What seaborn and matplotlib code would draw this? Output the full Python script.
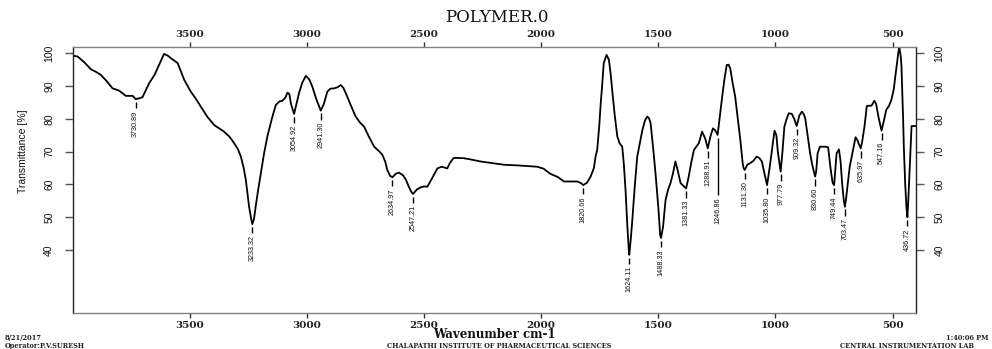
import numpy as np
import pandas as pd
import matplotlib
matplotlib.use("Agg")
import matplotlib.pyplot as plt
import seaborn as sns

# Spectrum trace: wavenumber (cm-1) and transmittance (%)
spectrum_wn = [
    3996, 3979, 3950, 3922, 3900, 3880, 3855, 3830, 3802, 3773, 3744, 3715, 3702,
    3674, 3650, 3638, 3622, 3610, 3595, 3581, 3552, 3524, 3496, 3475, 3453, 3425,
    3396, 3354, 3330, 3311, 3295, 3282, 3270, 3261, 3247, 3238, 3226, 3219, 3208,
    3197, 3183, 3169, 3150, 3133, 3118, 3105, 3092, 3083, 3075, 3068, 3045, 3034,
    3020, 3005, 2990, 2977, 2960, 2928, 2913, 2900, 2884, 2870, 2856, 2845, 2834,
    2812, 2792, 2775, 2756, 2735, 2713, 2690, 2678, 2666, 2657, 2645, 2620, 2607,
    2590, 2578, 2565, 2555, 2530, 2515, 2500, 2486, 2465, 2443, 2425, 2401, 2390,
    2375, 2365, 2330, 2300, 2259, 2200, 2159, 2100, 2017, 1990, 1960, 1930, 1903,
    1870, 1846, 1830, 1805, 1789, 1775, 1768, 1761, 1752, 1747, 1740, 1733, 1721,
    1711, 1704, 1697, 1686, 1675, 1665, 1654, 1647, 1640, 1632, 1626, 1618, 1611,
    1600, 1590, 1578, 1568, 1557, 1547, 1540, 1533, 1522, 1512, 1500, 1492, 1480,
    1469, 1458, 1448, 1437, 1427, 1418, 1405, 1392, 1370, 1360, 1348, 1327, 1313,
    1300, 1278, 1267, 1257, 1238, 1229, 1218, 1208, 1200, 1193, 1183, 1172, 1160,
    1150, 1140, 1136, 1120, 1108, 1094, 1080, 1068, 1058, 1046, 1025, 1015, 1004,
    996, 990, 970, 962, 952, 943, 930, 920, 898, 887, 880, 873, 862, 852, 843,
    826, 820, 810, 795, 785, 775, 765, 756, 745, 739, 729, 722, 715, 708, 698,
    690, 683, 670, 658, 650, 645, 630, 620, 610, 600, 590, 578, 570, 560, 540,
    527, 515, 505, 495, 483, 475, 471, 465, 462, 455, 452, 446, 441, 433, 429,
    423, 419, 405, 400,
]
spectrum_t = [
    99.2, 99.0, 97.2, 95.1, 94.3, 93.4, 91.5, 89.3, 88.6, 87.0, 87.0, 86.3, 86.6,
    90.8, 93.5, 95.4, 98.0, 99.8, 99.3, 98.5, 97.0, 91.9, 88.3, 86.2, 83.7, 80.6,
    78.1, 76.1, 74.5, 72.6, 70.8, 68.5, 65.0, 61.4, 53.2, 49.5, 49.5, 53.2, 58.5,
    63.4, 69.5, 74.6, 80.0, 84.2, 85.3, 85.5, 86.5, 88.0, 87.5, 84.5, 84.5, 87.8,
    91.0, 93.1, 92.0, 89.8, 86.0, 84.5, 88.3, 89.2, 89.3, 89.6, 90.3, 89.5, 87.8,
    84.0, 80.7, 79.0, 77.6, 74.5, 71.5, 70.0, 69.0, 67.0, 64.4, 62.6, 63.3, 63.6,
    62.8, 61.5, 59.3, 57.8, 58.5, 59.1, 59.4, 59.3, 62.0, 64.9, 65.4, 64.9, 66.5,
    68.0, 68.1, 68.0, 67.6, 67.0, 66.4, 66.0, 65.8, 65.4, 64.8, 63.2, 62.3, 60.9,
    60.9, 60.9, 60.4, 60.5, 62.4, 65.0, 68.5, 70.5, 78.0, 83.7, 90.0, 97.0, 99.5,
    98.0, 94.0, 88.8, 81.0, 74.6, 72.5, 71.5, 66.0, 58.3, 47.0, 40.0, 43.0, 49.2,
    60.0, 68.5, 73.0, 76.6, 79.5, 80.7, 80.2, 78.7, 71.0, 63.4, 53.0, 44.5, 47.0,
    55.3, 58.5, 60.4, 63.5, 67.0, 64.5, 60.4, 59.5, 62.5, 66.5, 70.5, 72.6, 76.1,
    74.0, 74.5, 77.1, 76.5, 80.5, 85.8, 92.0, 96.4, 96.5, 95.4, 91.0, 86.8, 79.5,
    73.6, 66.5, 65.0, 66.0, 66.5, 67.2, 68.5, 68.0, 67.0, 63.0, 65.0, 70.5, 76.4,
    75.0, 70.0, 70.0, 77.6, 80.0, 81.7, 81.5, 80.0, 81.0, 82.2, 81.5, 80.2, 74.5,
    69.5, 66.0, 64.0, 69.5, 71.5, 71.5, 71.5, 71.3, 65.0, 60.5, 64.0, 69.5, 70.7,
    67.0, 60.0, 55.0, 56.0, 61.0, 65.4, 70.0, 74.4, 73.5, 72.5, 73.0, 77.6, 83.9,
    84.0, 84.0, 85.5, 84.5, 80.5, 78.5, 82.7, 84.0, 85.8, 89.0, 95.9, 100.5,
    101.8, 99.0, 95.9, 80.0, 71.5, 60.0, 53.2, 55.0, 61.4, 71.5, 77.8, 77.8,
    77.8,
]

# Annotated band positions and their transmittance
peak_wn = [3730.89, 3233.32, 3054.92, 2941.30, 2634.97, 2547.21, 1820.66,
           1624.11, 1488.33, 1381.33, 1288.91, 1246.86, 1131.30, 1035.80,
           977.79, 909.32, 830.60, 749.44, 703.47, 635.97, 547.16, 436.72]
peak_t = [86.0, 47.9, 81.5, 82.5, 62.2, 57.1, 59.8, 38.5, 43.7, 58.8, 71.0,
          75.1, 64.4, 59.8, 63.9, 77.8, 62.4, 59.8, 53.2, 71.0, 76.4, 50.0]
peak_labels = ["3730.89", "3233.32", "3054.92", "2941.30", "2634.97", "2547.21",
               "1820.66", "1624.11", "1488.33", "1381.33", "1288.91", "1246.86",
               "1131.30", "1035.80", "977.79", "909.32", "830.60", "749.44",
               "703.47", "635.97", "547.16", "436.72"]

x_ticks = [3500, 3000, 2500, 2000, 1500, 1000, 500]
y_ticks = [40, 50, 60, 70, 80, 90, 100]

df = pd.DataFrame({
    "wn": list(spectrum_wn) + list(peak_wn),
    "t": list(spectrum_t) + list(peak_t),
}).sort_values("wn", ascending=False)

sns.set_style("ticks")
sans = ["Liberation Sans", "DejaVu Sans"]
serif = ["DejaVu Serif"]

W, H = 992, 349
fig = plt.figure(figsize=(W / 100, H / 100), dpi=100)
L, R, T, B = 72.7, 916.0, 47.0, 312.7
ax = fig.add_axes([L / W, 1 - B / H, (R - L) / W, (B - T) / H])

sns.lineplot(data=df, x="wn", y="t", sort=False, estimator=None,
             color="black", linewidth=1.3, ax=ax)

ax.set_xlim(4000, 400)
ax.set_ylim(20.9, 101.9)
ax.set_xticks(x_ticks)
ax.set_yticks(y_ticks)
ax.set_xlabel("")
ax.set_ylabel("")

for side, col in [("left", "#222222"), ("right", "#222222"),
                  ("top", "#808080"), ("bottom", "#808080")]:
    ax.spines[side].set_visible(True)
    ax.spines[side].set_color(col)
    ax.spines[side].set_linewidth(1.0)

ax.tick_params(axis="x", top=True, labeltop=True, bottom=True, labelbottom=True,
               direction="out", length=3.3, width=1.0, pad=2.6, color="#333333")
ax.tick_params(axis="y", left=True, labelleft=True, right=True, labelright=True,
               direction="out", length=5.8, width=1.0, pad=7.5, color="#555555")

for tk in ax.xaxis.get_major_ticks():
    for lb in (tk.label1, tk.label2):
        lb.set_family(serif)
        lb.set_fontweight("bold")
        lb.set_fontsize(7.5)
        lb.set_color("#222222")
for tk in ax.yaxis.get_major_ticks():
    for lb in (tk.label1, tk.label2):
        lb.set_family(sans)
        lb.set_fontsize(7.5)
        lb.set_rotation(90)
        lb.set_va("center")
        lb.set_color("#111111")

# Band labels: a short leader line under each minimum, value written vertically
extra_drop = {"1246.86": 15.5}
for w, t, s in zip(peak_wn, peak_t, peak_labels):
    drop = extra_drop.get(s, 0.0)
    ax.vlines(w, t - 2.8 - drop, t - 0.8, color="black", linewidth=1.0)
    ax.text(w, t - 3.4 - drop, s, rotation=90, ha="center", va="top",
            family=sans, fontsize=5.2, color="#111111")

fig.text(497 / W, 1 - 17 / H, "POLYMER.0", ha="center", va="center",
         family=serif, fontsize=12, color="#111111")
fig.text(494 / W, 1 - 335 / H, "Wavenumber cm-1", ha="center", va="center",
         family=serif, fontweight="bold", fontsize=8.5, color="#111111")
fig.text(23 / W, 1 - 151 / H, "Transmittance [%]", rotation=90, ha="center",
         va="center", family=sans, fontsize=7.5, color="#111111")

small = dict(family=serif, fontweight="bold", fontsize=4.8, color="#222222",
             va="center")
fig.text(5 / W, 1 - 337.8 / H, "8/21/2017", ha="left", **small)
fig.text(5 / W, 1 - 345.8 / H, "Operator:P.V.SURESH", ha="left", **small)
fig.text(499 / W, 1 - 345.8 / H, "CHALAPATHI INSTITUTE OF PHARMACEUTICAL SCIENCES",
         ha="center", **small)
fig.text(988 / W, 1 - 337.8 / H, "1:40:06 PM", ha="right", **small)
fig.text(840 / W, 1 - 345.8 / H, "CENTRAL INSTRUMENTATION LAB", ha="left", **small)

fig.savefig("out.png", dpi=100, facecolor="white")
